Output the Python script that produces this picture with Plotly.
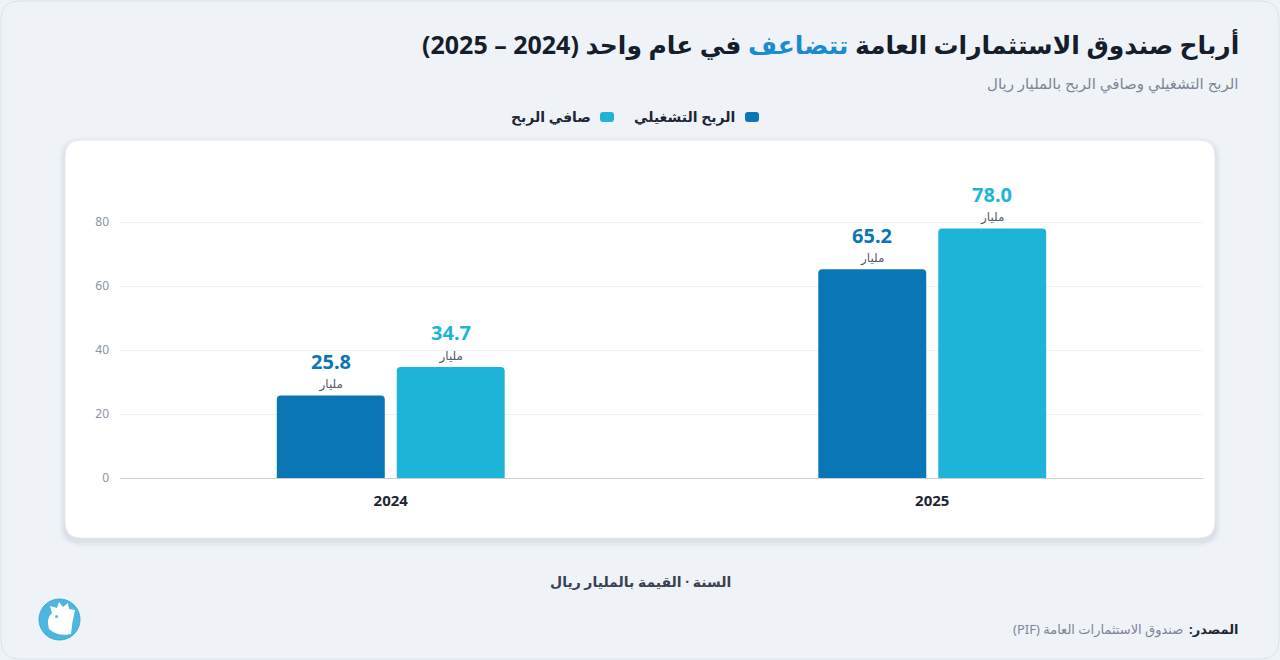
import plotly.graph_objects as go

years = ["2024", "2025"]
operating_profit = [25.8, 65.2]
net_profit = [34.7, 78.0]
series_names = ["الربح التشغيلي", "صافي الربح"]
unit_label = "مليار"
y_ticks = [0, 20, 40, 60, 80]

title_parts = ["أرباح صندوق الاستثمارات العامة ", "تتضاعف", " في عام واحد (2024 – 2025)"]
subtitle = "الربح التشغيلي وصافي الربح بالمليار ريال"
caption = "السنة · القيمة بالمليار ريال"
source_label = "المصدر:"
source_text = "صندوق الاستثمارات العامة (PIF)"

RLE, PDF, RLM = "\u202b", "\u202c", "\u200f"
DARK = "#0a76b5"
LIGHT = "#1db4d8"
FONT = "Noto Sans, DejaVu Sans, sans-serif"

def rtl(s):
    return RLE + RLM + s + RLM + PDF

W, H = 1280, 660
L, R, T, B = 120, 77, 158, 182
PW, PH = W - L - R, H - T - B

def px(x):
    return (x - L) / PW

def py(y):
    return (H - B - y) / PH

fig = go.Figure()
for name, vals, col in [(series_names[0], operating_profit, DARK), (series_names[1], net_profit, LIGHT)]:
    fig.add_trace(go.Bar(
        x=years, y=vals, name=name, marker=dict(color=col, line=dict(width=0)),
        text=[unit_label] * len(vals), texttemplate="%{text}",
        textposition="outside", cliponaxis=False,
        textfont=dict(size=12, color="#555b66", family=FONT),
        showlegend=False,
    ))

fig.update_layout(
    width=W, height=H,
    margin=dict(l=L, r=R, t=T, b=B),
    paper_bgcolor="#eff3f8",
    plot_bgcolor="rgba(0,0,0,0)",
    barmode="group", bargap=0.557, bargroupgap=0.1, barcornerradius=4,
    font=dict(family=FONT),
    xaxis=dict(type="category", showgrid=False, zeroline=False, showline=False, ticks="",
               tickfont=dict(size=15, color="#1f2633", family=FONT), ticklabelstandoff=12,
               tickvals=years, ticktext=["<b>%s</b>" % y for y in years]),
    yaxis=dict(range=[0, 100], tickvals=y_ticks, showgrid=True, gridcolor="#eef1f5", gridwidth=1,
               zeroline=True, zerolinecolor="#c9ced6", zerolinewidth=1, showline=False,
               tickfont=dict(size=12, color="#8a93a3", family=FONT), ticklabelstandoff=10),
    showlegend=False,
)

def rrect_path(x0, y0, x1, y1, r):
    def P(x, y):
        return "%f,%f" % (px(x), py(y))
    return ("M " + P(x0 + r, y0) + " L " + P(x1 - r, y0) + " Q " + P(x1, y0) + " " + P(x1, y0 + r) +
            " L " + P(x1, y1 - r) + " Q " + P(x1, y1) + " " + P(x1 - r, y1) +
            " L " + P(x0 + r, y1) + " Q " + P(x0, y1) + " " + P(x0, y1 - r) +
            " L " + P(x0, y0 + r) + " Q " + P(x0, y0) + " " + P(x0 + r, y0) + " Z")

shapes = []
shapes.append(dict(type="path", xref="paper", yref="paper", path=rrect_path(1, 1, 1279, 659, 18),
                   line=dict(color="#dde2ea", width=1), fillcolor="rgba(0,0,0,0)", layer="below"))
for i, a in enumerate([0.02, 0.03, 0.045]):
    d = 6 - 2 * i
    shapes.append(dict(type="path", xref="paper", yref="paper",
                       path=rrect_path(65 - d, 140 - d + 3, 1215 + d, 538 + d + 3, 16 + d),
                       line=dict(width=0), fillcolor="rgba(30,50,90,%.3f)" % a, layer="below"))
shapes.append(dict(type="path", xref="paper", yref="paper", path=rrect_path(65, 140, 1215, 538, 16),
                   line=dict(color="#e6eaf0", width=1), fillcolor="#ffffff", layer="below"))
shapes.append(dict(type="path", xref="paper", yref="paper", path=rrect_path(745, 112, 759, 122, 3),
                   line=dict(width=0), fillcolor=DARK))
shapes.append(dict(type="path", xref="paper", yref="paper", path=rrect_path(600, 112, 614, 122, 3),
                   line=dict(width=0), fillcolor=LIGHT))
shapes.append(dict(type="circle", xref="paper", yref="paper",
                   x0=px(39), x1=px(80), y0=py(640), y1=py(599),
                   line=dict(color="#3aa9d6", width=1), fillcolor="#4cb6de"))
shapes.append(dict(type="path", xref="paper", yref="paper",
                   path=("M %f,%f Q %f,%f %f,%f L %f,%f L %f,%f L %f,%f L %f,%f L %f,%f L %f,%f L %f,%f Q %f,%f %f,%f Q %f,%f %f,%f Z" % (
                       px(49), py(629), px(46), py(618), px(52), py(613),
                       px(50), py(606), px(57), py(608),
                       px(59), py(602), px(63), py(607),
                       px(68), py(603), px(69), py(609),
                       px(75), py(610), px(72), py(622), px(71), py(634),
                       px(58), py(637), px(49), py(629))),
                   line=dict(width=0), fillcolor="#ffffff"))
shapes.append(dict(type="circle", xref="paper", yref="paper",
                   x0=px(55), x1=px(58), y0=py(618), y1=py(615),
                   line=dict(width=0), fillcolor="#4cb6de"))
fig.update_layout(shapes=shapes)

ann = []
def A(text, x, y, size, color, xanchor="right", bold=False):
    ann.append(dict(text=("<b>%s</b>" % text) if bold else text, x=px(x), y=py(y), xref="paper", yref="paper",
                    xanchor=xanchor, yanchor="middle", showarrow=False,
                    font=dict(size=size, color=color, family=FONT)))

title_html = ("<b>" + RLE + RLM + title_parts[0] + "<span style='color:#1a8bd0'>" + title_parts[1] + "</span>" +
              title_parts[2] + RLM + PDF + "</b>")
ann.append(dict(text=title_html, x=px(1241), y=py(44), xref="paper", yref="paper", xanchor="right",
                yanchor="middle", showarrow=False, font=dict(size=25, color="#161d2b", family=FONT)))
A(rtl(subtitle), 1241, 83, 15, "#7d8594")
A(rtl(series_names[0]), 737, 117, 14, "#1f2633", bold=True)
A(rtl(series_names[1]), 593, 117, 14, "#1f2633", bold=True)
A(rtl(caption), 640, 581, 14, "#3a4150", xanchor="center", bold=True)
A(rtl(source_label), 1241, 629, 13, "#1f2633", bold=True)
A(rtl(source_text), 1185, 629, 13, "#7d8594")

# value labels above bars (number line), from the data arrays; category axis uses indices
for vals, col, shift in [(operating_profit, DARK, -60), (net_profit, LIGHT, 60)]:
    for i, v in enumerate(vals):
        ann.append(dict(text="<b>%.1f</b>" % v, x=i, y=v, xref="x", yref="y", xshift=shift, yshift=34,
                        xanchor="center", yanchor="middle", showarrow=False,
                        font=dict(size=20, color=col, family=FONT)))
fig.update_layout(annotations=ann)

fig.write_html("out.html")
